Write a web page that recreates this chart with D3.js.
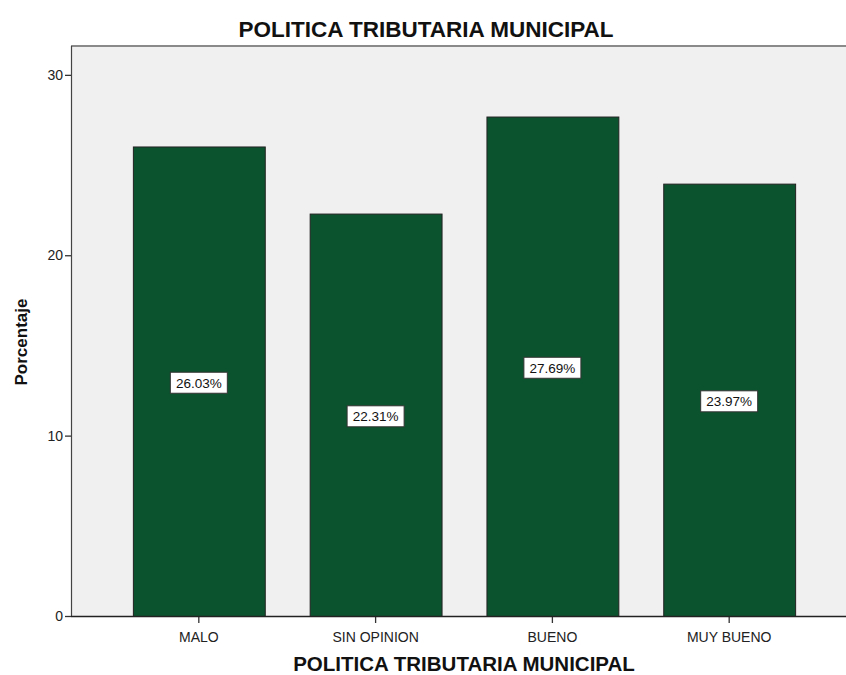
<!DOCTYPE html>
<html>
<head>
<meta charset="utf-8">
<script src="https://cdn.jsdelivr.net/npm/d3@7"></script>
<style>
  body { margin: 0; background: #fff; overflow: hidden; }
  text { font-family: "Liberation Sans", Arial, sans-serif; }
</style>
</head>
<body>
<div class="chart"></div>
<script>
var categories = ['MALO', 'SIN OPINION', 'BUENO', 'MUY BUENO'];
var percents = [26.03, 22.31, 27.69, 23.97];
var yTicks = [0, 10, 20, 30];

(function(){

var width = 846, height = 675;
var plotLeft = 71, plotRight = 857, plotTop = 46, plotBottom = 616;

var svg = d3.select('.chart').append('svg')
  .attr('width', width)
  .attr('height', height)
  .style('display', 'block');

var x = d3.scaleBand().domain(categories).range([plotLeft, plotRight])
  .paddingInner(0.254).paddingOuter(0.35);
var y = d3.scaleLinear().domain([0, 31.6]).range([plotBottom, plotTop]);

// plot background
svg.append('rect')
  .attr('x', plotLeft).attr('y', plotTop)
  .attr('width', plotRight - plotLeft).attr('height', plotBottom - plotTop)
  .attr('fill', '#f0f0f0');

// top frame line
svg.append('line')
  .attr('x1', plotLeft).attr('x2', plotRight)
  .attr('y1', plotTop).attr('y2', plotTop)
  .attr('stroke', '#8a8a8a').attr('stroke-width', 2);

var data = categories.map(function(c, i){ return {cat: c, val: percents[i]} });

svg.selectAll('.bar').data(data).enter().append('rect')
  .attr('class', 'bar')
  .attr('x', function(d){ return x(d.cat) + 0.5 })
  .attr('y', function(d){ return y(d.val) + 0.5 })
  .attr('width', x.bandwidth())
  .attr('height', function(d){ return plotBottom - y(d.val) })
  .attr('fill', '#0b532e')
  .attr('stroke', '#222')
  .attr('stroke-width', 1);

// value labels
var lab = svg.selectAll('.lab').data(data).enter().append('g')
  .attr('class', 'lab')
  .attr('transform', function(d){
    return 'translate(' + (x(d.cat) + x.bandwidth() / 2) + ',' + (y(d.val / 2) + 1.5) + ')';
  });
lab.append('rect')
  .attr('x', -28.5).attr('y', -10.5)
  .attr('width', 57).attr('height', 21)
  .attr('fill', '#fff').attr('stroke', '#333').attr('stroke-width', 1);
lab.append('text')
  .attr('text-anchor', 'middle').attr('dy', '0.37em')
  .attr('font-size', 13.5).attr('fill', '#111')
  .text(function(d){ return d.val.toFixed(2) + '%' });

// y axis
var yAxis = svg.append('g')
  .attr('transform', 'translate(' + plotLeft + ',0)')
  .call(d3.axisLeft(y).tickValues(yTicks).tickSize(6).tickPadding(2).tickFormat(d3.format('d')));
yAxis.select('.domain').remove();
yAxis.selectAll('line').attr('stroke', '#333').attr('stroke-width', 1.3);
yAxis.selectAll('text').attr('font-size', 14).attr('fill', '#222')
  .style('font-family', '"Liberation Sans", Arial, sans-serif');
svg.append('line')
  .attr('x1', plotLeft + 0.5).attr('x2', plotLeft + 0.5)
  .attr('y1', plotTop).attr('y2', plotBottom)
  .attr('stroke', '#444').attr('stroke-width', 1.2);

// x axis
var xAxis = svg.append('g')
  .attr('transform', 'translate(0,' + plotBottom + ')')
  .call(d3.axisBottom(x).tickSize(7).tickPadding(9));
xAxis.select('.domain').remove();
xAxis.selectAll('line').attr('stroke', '#333').attr('stroke-width', 1.3);
xAxis.selectAll('text').attr('font-size', 14).attr('fill', '#222')
  .style('font-family', '"Liberation Sans", Arial, sans-serif');
svg.append('line')
  .attr('x1', plotLeft).attr('x2', plotRight)
  .attr('y1', plotBottom + 0.5).attr('y2', plotBottom + 0.5)
  .attr('stroke', '#222').attr('stroke-width', 1.3);

// titles
svg.append('text')
  .attr('x', 426).attr('y', 37)
  .attr('text-anchor', 'middle')
  .attr('font-size', 22.5).attr('font-weight', 'bold').attr('fill', '#111')
  .text('POLITICA TRIBUTARIA MUNICIPAL');

svg.append('text')
  .attr('x', 464).attr('y', 671)
  .attr('text-anchor', 'middle')
  .attr('font-size', 20.5).attr('font-weight', 'bold').attr('fill', '#111')
  .text('POLITICA TRIBUTARIA MUNICIPAL');

svg.append('text')
  .attr('transform', 'translate(27,' + 342 + ') rotate(-90)')
  .attr('text-anchor', 'middle')
  .attr('font-size', 17).attr('font-weight', 'bold').attr('fill', '#111')
  .text('Porcentaje');

})();
</script>
</body>
</html>
